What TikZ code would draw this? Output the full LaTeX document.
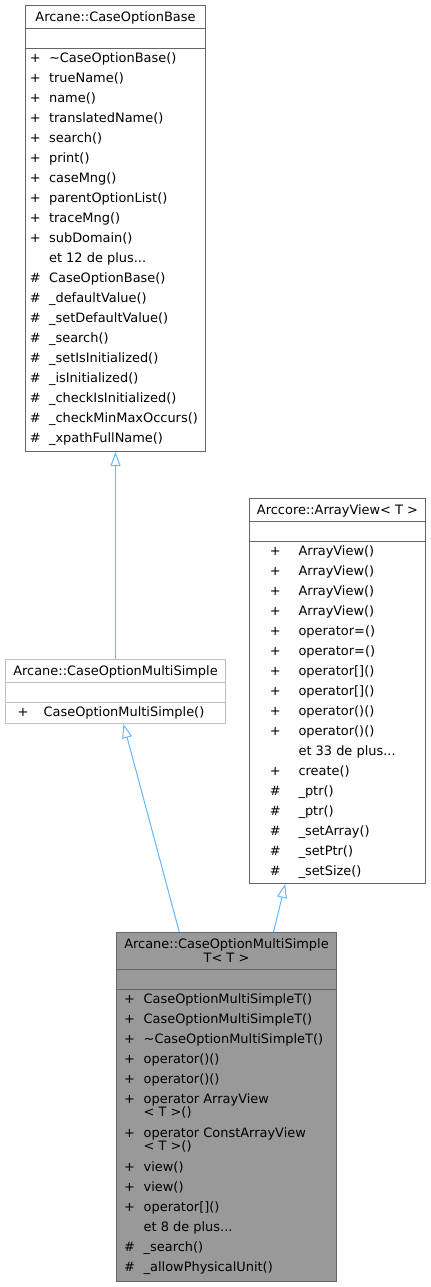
\documentclass[tikz,border=0pt]{standalone}
\usepackage{fontspec}
\setmainfont{DejaVu Sans}
\usetikzlibrary{arrows.meta}
\definecolor{edgeblu}{RGB}{99,184,255}
\definecolor{boxgray}{RGB}{102,102,102}
\definecolor{boxlight}{RGB}{191,191,191}
\definecolor{boxfill}{RGB}{153,153,153}
\newcommand{\membfont}{\fontsize{9.7pt}{15pt}\selectfont}

\begin{document}
\begin{tikzpicture}[x=0.75pt,y=0.75pt,yscale=-1,xscale=1,
	classbox/.style={draw=boxgray, line width=0.75pt, inner sep=0pt},
	inh/.style={draw=edgeblu, line width=0.75pt, -{Triangle[open, length=10.5pt, width=7.5pt]}},
	title/.style={anchor=base, inner sep=0pt, font=\membfont},
	members/.style={anchor=north west, inner sep=0pt, font=\membfont}]
	\useasboundingbox (0,0) rectangle (431,1287);

	% class boxes
	\node [classbox, minimum width=135pt, minimum height=334.5pt] (base) at (115.5,228.5) {};
	\node [classbox, minimum width=132.4pt, minimum height=288.75pt] (view) at (337.5,691) {};
	\node [classbox, draw=boxlight, minimum width=165pt, minimum height=48pt] (multi) at (115.5,691.5) {};
	\node [classbox, fill=boxfill, minimum width=165pt, minimum height=261.75pt] (multiT) at (226.5,1107) {};

	\draw [boxgray, line width=0.75pt]    (25.5,28.5) -- (205.5,28.5) ;
	\draw [boxgray, line width=0.75pt]    (25.5,48.5) -- (205.5,48.5) ;
	\draw [boxgray, line width=0.75pt]    (249.5,521.5) -- (425.5,521.5) ;
	\draw [boxgray, line width=0.75pt]    (249.5,541.5) -- (425.5,541.5) ;
	\draw [boxlight, line width=0.75pt]    (5.5,682.5) -- (225.5,682.5) ;
	\draw [boxlight, line width=0.75pt]    (5.5,702.5) -- (225.5,702.5) ;
	\draw [boxgray, line width=0.75pt]    (116.5,969.5) -- (336.5,969.5) ;
	\draw [boxgray, line width=0.75pt]    (116.5,989.5) -- (336.5,989.5) ;

	% inheritance
	\draw [inh]    (multi.north) -- (base.south) ;
	\draw [inh]    ([xshift=-35.4pt]multiT.north) -- ([xshift=6pt]multi.south) ;
	\draw [inh]    ([xshift=35.25pt]multiT.north) -- ([xshift=-39.2pt]view.south) ;

	% titles
	\node [title] (baseName) at (115.5,21.2) {Arcane::CaseOptionBase};
	\node [title] (viewName) at (337.5,514.2) {Arccore::ArrayView< T >};
	\node [title] (multiName) at (115.5,675.2) {Arcane::CaseOptionMultiSimple};
	\node [inner sep=0pt, align=center, font=\fontsize{9.7pt}{10.5pt}\selectfont] (multiTName) at (226.5,951) {Arcane::CaseOptionMultiSimple\\T< T >};

	% members
	\node [members] (baseOps) at (29.6,48) {\begin{tabular}{@{}c@{\hspace{6.3pt}}l@{}}
	+ & \textasciitilde CaseOptionBase()\\
	+ & trueName()\\
	+ & name()\\
	+ & translatedName()\\
	+ & search()\\
	+ & print()\\
	+ & caseMng()\\
	+ & parentOptionList()\\
	+ & traceMng()\\
	+ & subDomain()\\
	  & et 12 de plus...\\
	\# & CaseOptionBase()\\
	\# & \_defaultValue()\\
	\# & \_setDefaultValue()\\
	\# & \_search()\\
	\# & \_setIsInitialized()\\
	\# & \_isInitialized()\\
	\# & \_checkIsInitialized()\\
	\# & \_checkMinMaxOccurs()\\
	\# & \_xpathFullName()
	\end{tabular}};

	\node [members] (viewOps) at (269.6,541) {\begin{tabular}{@{}c@{\hspace{13.4pt}}l@{}}
	+ & ArrayView()\\
	+ & ArrayView()\\
	+ & ArrayView()\\
	+ & ArrayView()\\
	+ & operator=()\\
	+ & operator=()\\
	+ & operator[]()\\
	+ & operator[]()\\
	+ & operator()()\\
	+ & operator()()\\
	  & et 33 de plus...\\
	+ & create()\\
	\# & \_ptr()\\
	\# & \_ptr()\\
	\# & \_setArray()\\
	\# & \_setPtr()\\
	\# & \_setSize()
	\end{tabular}};

	\node [members] (multiOps) at (17.3,702) {\begin{tabular}{@{}c@{\hspace{11.4pt}}l@{}}
	+ & CaseOptionMultiSimple()
	\end{tabular}};

	\node [members] (multiTOps) at (123.9,989) {\begin{tabular}{@{}c@{\hspace{6.5pt}}l@{}}
	+ & CaseOptionMultiSimpleT()\\
	+ & CaseOptionMultiSimpleT()\\
	+ & \textasciitilde CaseOptionMultiSimpleT()\\
	+ & operator()()\\
	+ & operator()()\\
	+ & operator ArrayView\\[-5pt]
	  & < T >()\\[0.75pt]
	+ & operator ConstArrayView\\[-5pt]
	  & < T >()\\[0.75pt]
	+ & view()\\
	+ & view()\\
	+ & operator[]()\\
	  & et 8 de plus...\\
	\# & \_search()\\
	\# & \_allowPhysicalUnit()
	\end{tabular}};
\end{tikzpicture}
\end{document}
